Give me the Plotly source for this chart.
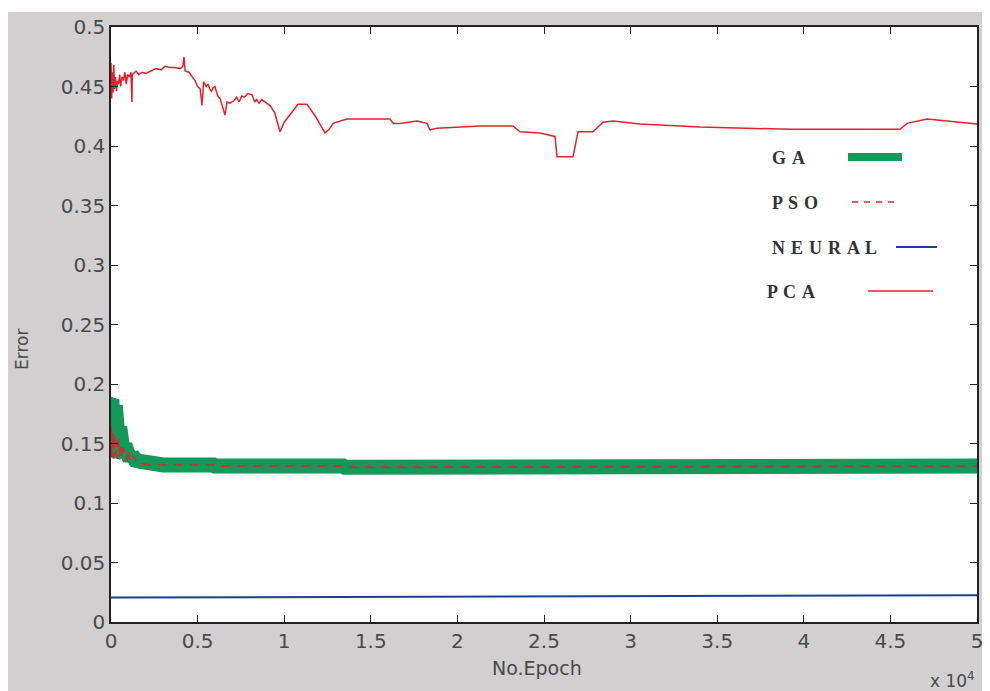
import plotly.graph_objects as go

# ---- data (epochs, error) ----
pca_x = [0, 40, 80, 120, 160, 200, 260, 320, 380, 440, 500, 560, 640, 720, 800, 880, 960,
         1050, 1150, 1210, 1230, 1300, 1450, 1600, 1800, 2000, 2300, 2600, 2900, 3100, 3400,
         3700, 4000, 4150, 4215, 4280, 4500, 4700, 4850, 5000, 5150, 5254, 5350, 5500, 5600,
         5700, 5800, 5900, 6000, 6100, 6200, 6294, 6400, 6582, 6700, 6871, 7100, 7250, 7400,
         7550, 7700, 7900, 8141, 8300, 8400, 8550, 8700, 8900, 9180, 9450, 9758, 10000, 10400,
         10797, 11317, 11800, 12356, 12600, 12818, 13200, 13626, 16109, 16300, 16686, 17668,
         18245, 18419, 18823, 21306, 23211, 23615, 24770, 25636, 25752, 26676, 26965, 27830,
         28408, 28985, 30544, 34008, 39205, 44401, 45556, 45960, 47115, 50000]
pca_y = [0.470, 0.440, 0.462, 0.445, 0.468, 0.448, 0.458, 0.446, 0.455, 0.452, 0.460, 0.450,
         0.458, 0.455, 0.462, 0.452, 0.460, 0.458, 0.462, 0.437, 0.460, 0.461, 0.463, 0.460,
         0.462, 0.461, 0.463, 0.465, 0.464, 0.467, 0.466, 0.466, 0.465, 0.467, 0.475, 0.463,
         0.462, 0.458, 0.455, 0.450, 0.448, 0.434, 0.454, 0.450, 0.452, 0.448, 0.446, 0.449,
         0.450, 0.445, 0.441, 0.440, 0.435, 0.426, 0.437, 0.436, 0.438, 0.441, 0.437, 0.442,
         0.441, 0.444, 0.443, 0.437, 0.439, 0.436, 0.439, 0.437, 0.434, 0.428, 0.412, 0.420,
         0.428, 0.435, 0.435, 0.425, 0.411, 0.414, 0.419, 0.421, 0.4227, 0.4227, 0.419, 0.419,
         0.421, 0.419, 0.4134, 0.415, 0.4168, 0.4168, 0.412, 0.411, 0.408, 0.391, 0.391, 0.412,
         0.412, 0.420, 0.421, 0.4185, 0.416, 0.414, 0.414, 0.414, 0.419, 0.4227, 0.4185]

ga_x = [0, 25, 50, 75, 100, 125, 150, 175, 200, 225, 250, 275, 300, 325, 350, 375, 400,
        425, 450, 475, 500, 550, 600, 650, 700, 750, 800, 900, 1000, 1100, 1200, 1400, 1700,
        2000, 2500, 3000, 5900, 6000, 13400, 13500, 50000]
ga_y = [0.186, 0.141, 0.187, 0.140, 0.186, 0.141, 0.185, 0.140, 0.184, 0.141, 0.182, 0.140,
        0.180, 0.141, 0.176, 0.140, 0.172, 0.141, 0.168, 0.140, 0.164, 0.140, 0.158, 0.139,
        0.153, 0.138, 0.149, 0.137, 0.145, 0.136, 0.141, 0.136, 0.135, 0.134, 0.133, 0.132,
        0.132, 0.131, 0.131, 0.130, 0.131]

pso_x = [0, 50, 100, 150, 200, 260, 320, 380, 440, 500, 560, 640, 720, 800, 900, 1000,
         1100, 1200, 1300, 1500, 1800, 2200, 3000, 5900, 6000, 13400, 13500, 50000]
pso_y = [0.165, 0.138, 0.160, 0.137, 0.158, 0.140, 0.152, 0.137, 0.155, 0.138, 0.150, 0.139,
         0.147, 0.137, 0.135, 0.145, 0.136, 0.134, 0.140, 0.134, 0.133, 0.132, 0.132, 0.132,
         0.131, 0.131, 0.130, 0.131]

neural_x = [0, 50000]
neural_y = [0.0205, 0.0225]

x_tickvals = [0, 5000, 10000, 15000, 20000, 25000, 30000, 35000, 40000, 45000, 50000]
x_ticktext = ["0", "0.5", "1", "1.5", "2", "2.5", "3", "3.5", "4", "4.5", "5"]
y_tickvals = [0, 0.05, 0.1, 0.15, 0.2, 0.25, 0.3, 0.35, 0.4, 0.45, 0.5]
y_ticktext = ["0", "0.05", "0.1", "0.15", "0.2", "0.25", "0.3", "0.35", "0.4", "0.45", "0.5"]

legend_names = ["GA", "PSO", "NEURAL", "PCA"]

GREEN = "#15995a"
RED = "#e3222d"
BLUE = "#1c3f94"
TXT = "#4a4a4a"

fig = go.Figure()
fig.add_trace(go.Scatter(x=ga_x, y=ga_y, mode="lines", line=dict(color=GREEN, width=15),
                         name="GA", showlegend=False))
fig.add_trace(go.Scatter(x=pso_x, y=pso_y, mode="lines",
                         line=dict(color=RED, width=2, dash="9px,7px"),
                         opacity=0.8, name="PSO", showlegend=False))
fig.add_trace(go.Scatter(x=neural_x, y=neural_y, mode="lines", line=dict(color=BLUE, width=2),
                         name="NEURAL", showlegend=False))
fig.add_trace(go.Scatter(x=pca_x, y=pca_y, mode="lines", line=dict(color=RED, width=1.5),
                         name="PCA", showlegend=False))

# figure is placed at (8, 8) in the page; positions below are page pixels
OFF = 8
FW, FH = 982, 683
L, R, T, B = 111 - OFF, 977 - OFF, 27 - OFF, 622 - OFF
W, H = R - L, B - T
def px(x):
    return (x - OFF - L) / W
def py(y):
    return (B - (y - OFF)) / H

def spaced(s):
    return (" \u200a").join(list(s))

shapes = []
annotations = []
# thin white strip at the top of the figure
shapes.append(dict(type="rect", xref="paper", yref="paper", x0=px(0), x1=px(1000),
                   y0=py(12), y1=py(0), fillcolor="white", line=dict(width=0)))

# custom legend
leg = [
    (legend_names[0], 770, 158, 848, 902, dict(color=GREEN, width=8)),
    (legend_names[1], 770, 203, 852, 894, dict(color=RED, width=1.5, dash="6px,6px")),
    (legend_names[2], 770, 248, 896, 937, dict(color=BLUE, width=2)),
    (legend_names[3], 765, 292, 868, 933, dict(color=RED, width=1.5)),
]
for name, tx, ty, x0, x1, ln in leg:
    annotations.append(dict(text="<b>%s</b>" % spaced(name), xref="paper", yref="paper",
                            x=px(tx), y=py(ty), xanchor="left", yanchor="middle",
                            showarrow=False,
                            font=dict(family="Liberation Serif", size=18, color="#333333")))
    shapes.append(dict(type="line", xref="paper", yref="paper", x0=px(x0), x1=px(x1),
                       y0=py(ty - 1), y1=py(ty - 1), line=ln))

annotations.append(dict(text="x 10<sup>4</sup>", xref="paper", yref="paper",
                        x=px(977), y=py(680), xanchor="right", yanchor="middle",
                        showarrow=False,
                        font=dict(family="DejaVu Sans", size=17, color=TXT)))
annotations.append(dict(text="No.Epoch", xref="paper", yref="paper",
                        x=px(537), y=py(668), xanchor="center", yanchor="middle",
                        showarrow=False,
                        font=dict(family="DejaVu Sans", size=19, color=TXT)))
annotations.append(dict(text="Error", xref="paper", yref="paper", textangle=-90,
                        x=px(22), y=py(350), xanchor="center", yanchor="middle",
                        showarrow=False,
                        font=dict(family="DejaVu Sans", size=17, color=TXT)))

axis_common = dict(showline=True, linecolor="#222222", linewidth=1.5, mirror="ticks",
                   ticks="inside", ticklen=7, tickcolor="#222222", tickwidth=1.2,
                   showgrid=False, zeroline=False, automargin=False,
                   tickfont=dict(family="DejaVu Sans", size=20, color=TXT))

fig.update_layout(
    width=FW, height=FH,
    margin=dict(l=L, r=FW - R, t=T, b=FH - B, pad=0, autoexpand=False),
    paper_bgcolor="#d1cfd0", plot_bgcolor="white",
    xaxis=dict(range=[0, 50000], tickvals=x_tickvals, ticktext=x_ticktext, **axis_common),
    yaxis=dict(range=[0, 0.5], tickvals=y_tickvals, ticktext=y_ticktext, **axis_common),
    shapes=shapes, annotations=annotations, showlegend=False,
)

fig.write_html("out.html")
